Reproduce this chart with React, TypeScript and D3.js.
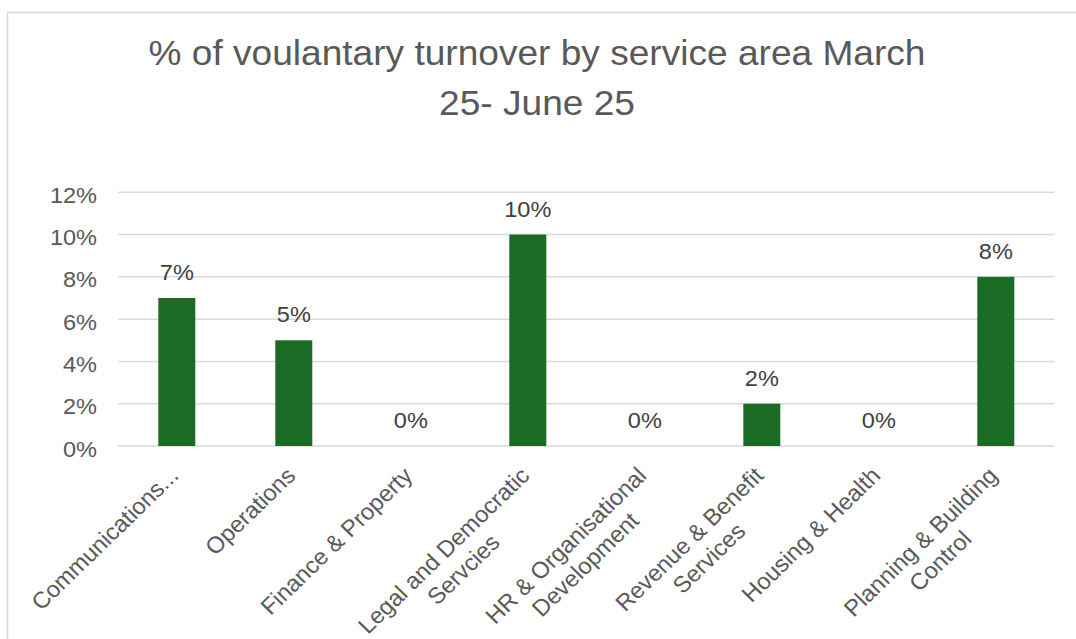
import React, { useEffect, useRef } from "react";
import * as d3 from "d3";

const titleLines = ["% of voulantary turnover by service area March", "25- June 25"];
const categories = [
  "Communications...",
  "Operations",
  "Finance & Property",
  "Legal and Democratic\nServcies",
  "HR & Organisational\nDevelopment",
  "Revenue & Benefit\nServices",
  "Housing & Health",
  "Planning & Building\nControl",
];
const values = [0.07, 0.05, 0, 0.1, 0, 0.02, 0, 0.08];
const yTicks = [0, 0.02, 0.04, 0.06, 0.08, 0.1, 0.12];

const W = 1076;
const H = 639;
const SX = 1.07;
const SXL = 1.03;
const FONT = "'Liberation Sans', Arial, sans-serif";

export default function App() {
  const ref = useRef<SVGSVGElement | null>(null);

  useEffect(() => {
    const svg = d3.select(ref.current);
    svg.selectAll("*").remove();

    svg
      .append("rect")
      .attr("x", 7.5)
      .attr("y", 12.5)
      .attr("width", W + 20)
      .attr("height", H + 20)
      .attr("fill", "#ffffff")
      .attr("stroke", "#d9d9d9")
      .attr("stroke-width", 1.5);

    // title
    titleLines.forEach((t, i) => {
      svg
        .append("text")
        .attr("transform", `translate(537,${65 + i * 50}) scale(${SX - 0.01},1)`)
        .attr("text-anchor", "middle")
        .attr("font-family", FONT)
        .attr("font-size", 35)
        .attr("fill", "#595959")
        .text(t);
    });

    const x = d3
      .scaleBand<string>()
      .domain(categories)
      .range([118.3, 1054.3])
      .paddingInner(0.684)
      .paddingOuter(0.342);
    const y = d3.scaleLinear().domain([0, 0.12]).range([446, 192.3]);
    const fmt = d3.format(".0%");

    // gridlines
    svg
      .append("g")
      .selectAll("line")
      .data(yTicks)
      .join("line")
      .attr("x1", 118.3)
      .attr("x2", 1054.3)
      .attr("y1", (d) => y(d))
      .attr("y2", (d) => y(d))
      .attr("stroke", "#d9d9d9")
      .attr("stroke-width", 1.5);

    // y tick labels
    svg
      .append("g")
      .selectAll("text")
      .data(yTicks)
      .join("text")
      .attr("transform", (d) => `translate(97,${y(d) + 10.5}) scale(${SX},1)`)
      .attr("text-anchor", "end")
      .attr("font-family", FONT)
      .attr("font-size", 22)
      .attr("fill", "#595959")
      .text((d) => fmt(d));

    // bars
    svg
      .append("g")
      .selectAll("rect")
      .data(values)
      .join("rect")
      .attr("x", (_d, i) => x(categories[i]) as number)
      .attr("width", x.bandwidth())
      .attr("y", (d) => y(d))
      .attr("height", (d) => y(0) - y(d))
      .attr("fill", "#1b6b25");

    // data labels
    svg
      .append("g")
      .selectAll("text")
      .data(values)
      .join("text")
      .attr(
        "transform",
        (d, i) =>
          `translate(${(x(categories[i]) as number) + x.bandwidth() / 2},${y(d) - 18}) scale(${SX},1)`
      )
      .attr("text-anchor", "middle")
      .attr("font-family", FONT)
      .attr("font-size", 22)
      .attr("fill", "#404040")
      .text((d) => fmt(d));

    // x labels
    const lg = svg.append("g");
    categories.forEach((c) => {
      const cx = (x(c) as number) + x.bandwidth() / 2;
      const lines = c.split("\n");
      const g = lg
        .append("g")
        .attr("transform", `translate(${cx + 3},477) scale(${SXL},1) rotate(-45)`);
      const first = g
        .append("text")
        .attr("text-anchor", "end")
        .attr("font-family", FONT)
        .attr("font-size", 23)
        .attr("fill", "#595959")
        .text(lines[0]);
      const w = (first.node() as SVGTextElement).getComputedTextLength();
      for (let k = 1; k < lines.length; k++) {
        g.append("text")
          .attr("x", -w / 2)
          .attr("y", 27 * k)
          .attr("text-anchor", "middle")
          .attr("font-family", FONT)
          .attr("font-size", 23)
          .attr("fill", "#595959")
          .text(lines[k]);
      }
    });
  }, []);

  return (
    <svg
      ref={ref}
      width={W}
      height={H}
      style={{ position: "absolute", left: 0, top: 0, display: "block" }}
    />
  );
}
